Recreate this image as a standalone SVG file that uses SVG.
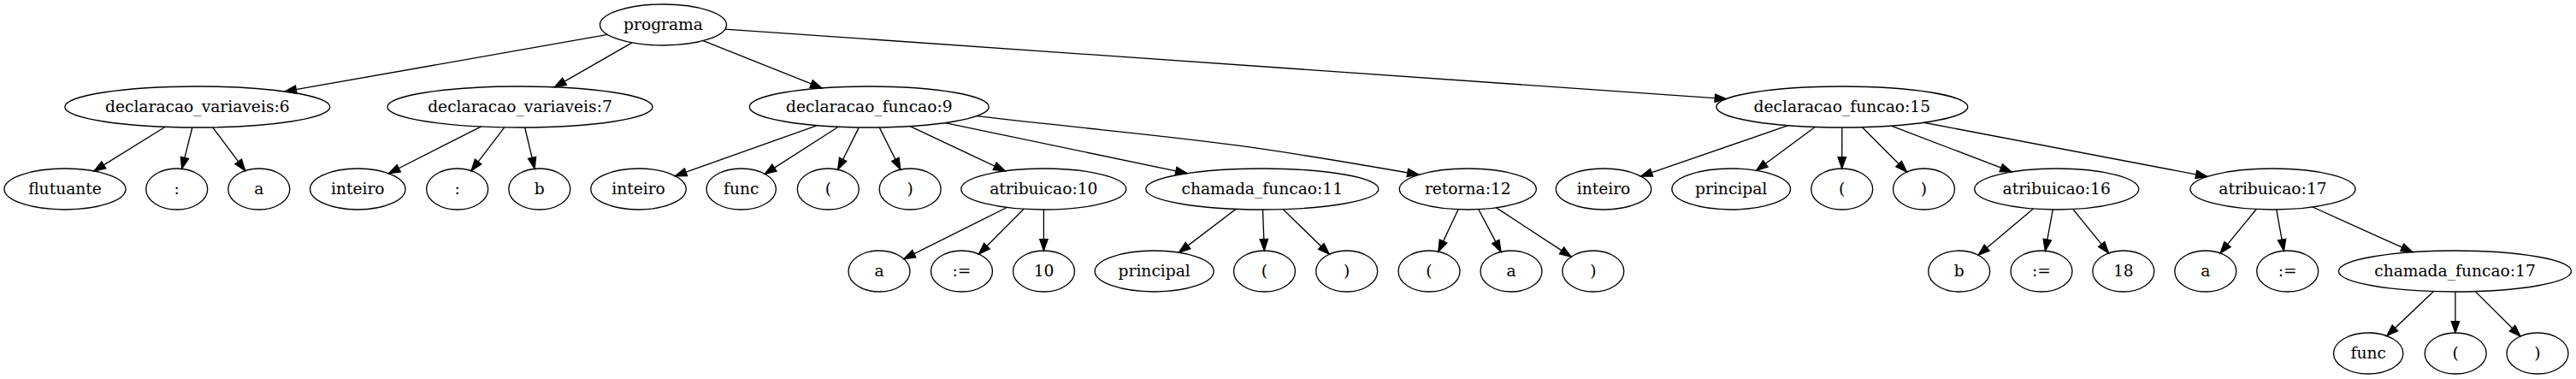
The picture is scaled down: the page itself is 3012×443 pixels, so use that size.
<svg xmlns="http://www.w3.org/2000/svg" width="3012" height="443" viewBox="0 0 3012 443">
<style>
ellipse{fill:none;stroke:#000;stroke-width:1.33}
text{font-family:"DejaVu Serif","Liberation Serif",serif;font-size:18.67px;text-anchor:middle;fill:#000}
.e path,.e line{fill:none;stroke:#000;stroke-width:1.33;marker-end:url(#arr)}
</style>
<defs>
<marker id="arr" markerWidth="16" markerHeight="12" refX="13.33" refY="4.67" orient="auto" markerUnits="userSpaceOnUse" overflow="visible">
<path d="M0,0 L13.33,4.67 L0,9.33 z" fill="#000" stroke="#000" stroke-width="1.33"/>
</marker>
</defs>
<rect width="3012" height="443" fill="#fff"/>
<g class="e" id="edges">
<line x1="710.48" y1="40.46" x2="333.10" y2="106.97"/>
<line x1="739.06" y1="49.89" x2="648.43" y2="101.83"/>
<line x1="822.20" y1="47.62" x2="961.00" y2="102.95"/>
<line x1="847.85" y1="34.04" x2="2018.59" y2="115.58"/>
<line x1="193.25" y1="148.28" x2="109.98" y2="199.93"/>
<line x1="224.78" y1="148.98" x2="212.64" y2="197.33"/>
<line x1="248.68" y1="148.84" x2="286.70" y2="199.53"/>
<line x1="562.65" y1="147.95" x2="454.41" y2="202.73"/>
<line x1="589.80" y1="148.83" x2="551.03" y2="199.61"/>
<line x1="613.70" y1="148.98" x2="625.17" y2="197.30"/>
<line x1="955.53" y1="146.62" x2="789.45" y2="205.72"/>
<line x1="980.17" y1="148.19" x2="894.24" y2="203.33"/>
<line x1="1004.34" y1="148.91" x2="979.68" y2="198.23"/>
<line x1="1028.23" y1="148.91" x2="1052.84" y2="198.23"/>
<line x1="1064.22" y1="147.55" x2="1175.21" y2="199.78"/>
<line x1="1105.11" y1="143.55" x2="1388.04" y2="202.66"/>
<path d="M1141.7,135.7 C1391.7,164 1409,160.2 1659,204.2"/>
<line x1="2090.82" y1="146.69" x2="1918.51" y2="206.02"/>
<line x1="2122.16" y1="148.44" x2="2053.55" y2="199.26"/>
<line x1="2153.8" y1="149" x2="2153.7" y2="197"/>
<line x1="2177.41" y1="148.69" x2="2229.57" y2="201.01"/>
<line x1="2211.49" y1="147.07" x2="2352.19" y2="200.91"/>
<line x1="2249.43" y1="143.23" x2="2580.90" y2="206.40"/>
<line x1="1177.26" y1="242.48" x2="1056.83" y2="302.61"/>
<line x1="1197.06" y1="244.29" x2="1144.44" y2="297.02"/>
<line x1="1220.4" y1="245" x2="1220.4" y2="293"/>
<line x1="1445.09" y1="244.38" x2="1378.41" y2="295.14"/>
<line x1="1476.5" y1="245" x2="1478.3" y2="293"/>
<line x1="1500.13" y1="244.61" x2="1554.32" y2="297.22"/>
<line x1="1705.09" y1="244.76" x2="1681.80" y2="294.11"/>
<line x1="1728.82" y1="244.70" x2="1755.04" y2="294.36"/>
<line x1="1749.60" y1="242.82" x2="1837.13" y2="300.18"/>
<line x1="2377.38" y1="244.01" x2="2313.05" y2="298.18"/>
<line x1="2400.28" y1="244.97" x2="2391.39" y2="293.18"/>
<line x1="2423.83" y1="244.52" x2="2465.64" y2="295.90"/>
<line x1="2638.22" y1="244.52" x2="2596.06" y2="295.94"/>
<line x1="2661.80" y1="244.98" x2="2670.43" y2="293.17"/>
<line x1="2704.12" y1="242.01" x2="2820.92" y2="294.65"/>
<line x1="2845.60" y1="340.59" x2="2790.70" y2="392.62"/>
<line x1="2870.9" y1="341" x2="2870.9" y2="389"/>
<line x1="2894.25" y1="340.63" x2="2946.96" y2="393.06"/>
</g>
<g id="n0"><ellipse cx="775.5" cy="29" rx="74" ry="24"/><text x="775.5" y="34.6">programa</text></g>
<g id="n1"><ellipse cx="230.8" cy="125" rx="155" ry="24"/><text x="230.8" y="130.6">declaracao_variaveis:6</text></g>
<g id="n2"><ellipse cx="608" cy="125" rx="155" ry="24"/><text x="608" y="130.6">declaracao_variaveis:7</text></g>
<g id="n3"><ellipse cx="1016.3" cy="125" rx="140" ry="24"/><text x="1016.3" y="130.6">declaracao_funcao:9</text></g>
<g id="n4"><ellipse cx="2153.8" cy="125" rx="147" ry="24"/><text x="2153.8" y="130.6">declaracao_funcao:15</text></g>
<g id="n5"><ellipse cx="76" cy="221" rx="71" ry="24"/><text x="76" y="226.6">flutuante</text></g>
<g id="n6"><ellipse cx="206.7" cy="221" rx="36" ry="24"/><text x="206.7" y="226.6">:</text></g>
<g id="n7"><ellipse cx="302.8" cy="221" rx="36" ry="24"/><text x="302.8" y="226.6">a</text></g>
<g id="n8"><ellipse cx="418.3" cy="221" rx="55.7" ry="24"/><text x="418.3" y="226.6">inteiro</text></g>
<g id="n9"><ellipse cx="534.7" cy="221" rx="36" ry="24"/><text x="534.7" y="226.6">:</text></g>
<g id="n10"><ellipse cx="630.8" cy="221" rx="36" ry="24"/><text x="630.8" y="226.6">b</text></g>
<g id="n11"><ellipse cx="746.5" cy="221" rx="55.7" ry="24"/><text x="746.5" y="226.6">inteiro</text></g>
<g id="n12"><ellipse cx="866.7" cy="221" rx="40.7" ry="24"/><text x="866.7" y="226.6">func</text></g>
<g id="n13"><ellipse cx="968.3" cy="221" rx="36" ry="24"/><text x="968.3" y="226.6">(</text></g>
<g id="n14"><ellipse cx="1064.2" cy="221" rx="36" ry="24"/><text x="1064.2" y="226.6">)</text></g>
<g id="n15"><ellipse cx="1220.3" cy="221" rx="96.5" ry="24"/><text x="1220.3" y="226.6">atribuicao:10</text></g>
<g id="n16"><ellipse cx="1475.8" cy="221" rx="136" ry="24"/><text x="1475.8" y="226.6">chamada_funcao:11</text></g>
<g id="n17"><ellipse cx="1716.3" cy="221" rx="80" ry="24"/><text x="1716.3" y="226.6">retorna:12</text></g>
<g id="n18"><ellipse cx="1875" cy="221" rx="55.7" ry="24"/><text x="1875" y="226.6">inteiro</text></g>
<g id="n19"><ellipse cx="2024.2" cy="221" rx="69.3" ry="24"/><text x="2024.2" y="226.6">principal</text></g>
<g id="n20"><ellipse cx="2153.7" cy="221" rx="36" ry="24"/><text x="2153.7" y="226.6">(</text></g>
<g id="n21"><ellipse cx="2249.5" cy="221" rx="36" ry="24"/><text x="2249.5" y="226.6">)</text></g>
<g id="n22"><ellipse cx="2404.7" cy="221" rx="96" ry="24"/><text x="2404.7" y="226.6">atribuicao:16</text></g>
<g id="n23"><ellipse cx="2657.5" cy="221" rx="96.5" ry="24"/><text x="2657.5" y="226.6">atribuicao:17</text></g>
<g id="n24"><ellipse cx="1028" cy="317" rx="36" ry="24"/><text x="1028" y="322.6">a</text></g>
<g id="n25"><ellipse cx="1124.5" cy="317" rx="36" ry="24"/><text x="1124.5" y="322.6">:=</text></g>
<g id="n26"><ellipse cx="1220.5" cy="317" rx="36" ry="24"/><text x="1220.5" y="322.6">10</text></g>
<g id="n27"><ellipse cx="1349.7" cy="317" rx="69.5" ry="24"/><text x="1349.7" y="322.6">principal</text></g>
<g id="n28"><ellipse cx="1478.5" cy="317" rx="36" ry="24"/><text x="1478.5" y="322.6">(</text></g>
<g id="n29"><ellipse cx="1574.7" cy="317" rx="36" ry="24"/><text x="1574.7" y="322.6">)</text></g>
<g id="n30"><ellipse cx="1671" cy="317" rx="36" ry="24"/><text x="1671" y="322.6">(</text></g>
<g id="n31"><ellipse cx="1767" cy="317" rx="36" ry="24"/><text x="1767" y="322.6">a</text></g>
<g id="n32"><ellipse cx="1862.8" cy="317" rx="36" ry="24"/><text x="1862.8" y="322.6">)</text></g>
<g id="n33"><ellipse cx="2290.7" cy="317" rx="36" ry="24"/><text x="2290.7" y="322.6">b</text></g>
<g id="n34"><ellipse cx="2387" cy="317" rx="36" ry="24"/><text x="2387" y="322.6">:=</text></g>
<g id="n35"><ellipse cx="2482.8" cy="317" rx="36" ry="24"/><text x="2482.8" y="322.6">18</text></g>
<g id="n36"><ellipse cx="2578.8" cy="317" rx="36" ry="24"/><text x="2578.8" y="322.6">a</text></g>
<g id="n37"><ellipse cx="2674.7" cy="317" rx="36" ry="24"/><text x="2674.7" y="322.6">:=</text></g>
<g id="n38"><ellipse cx="2870.5" cy="317" rx="136" ry="24"/><text x="2870.5" y="322.6">chamada_funcao:17</text></g>
<g id="n39"><ellipse cx="2769.2" cy="413" rx="40.7" ry="24"/><text x="2769.2" y="418.6">func</text></g>
<g id="n40"><ellipse cx="2871.2" cy="413" rx="36" ry="24"/><text x="2871.2" y="418.6">(</text></g>
<g id="n41"><ellipse cx="2967" cy="413" rx="36" ry="24"/><text x="2967" y="418.6">)</text></g>
</svg>
